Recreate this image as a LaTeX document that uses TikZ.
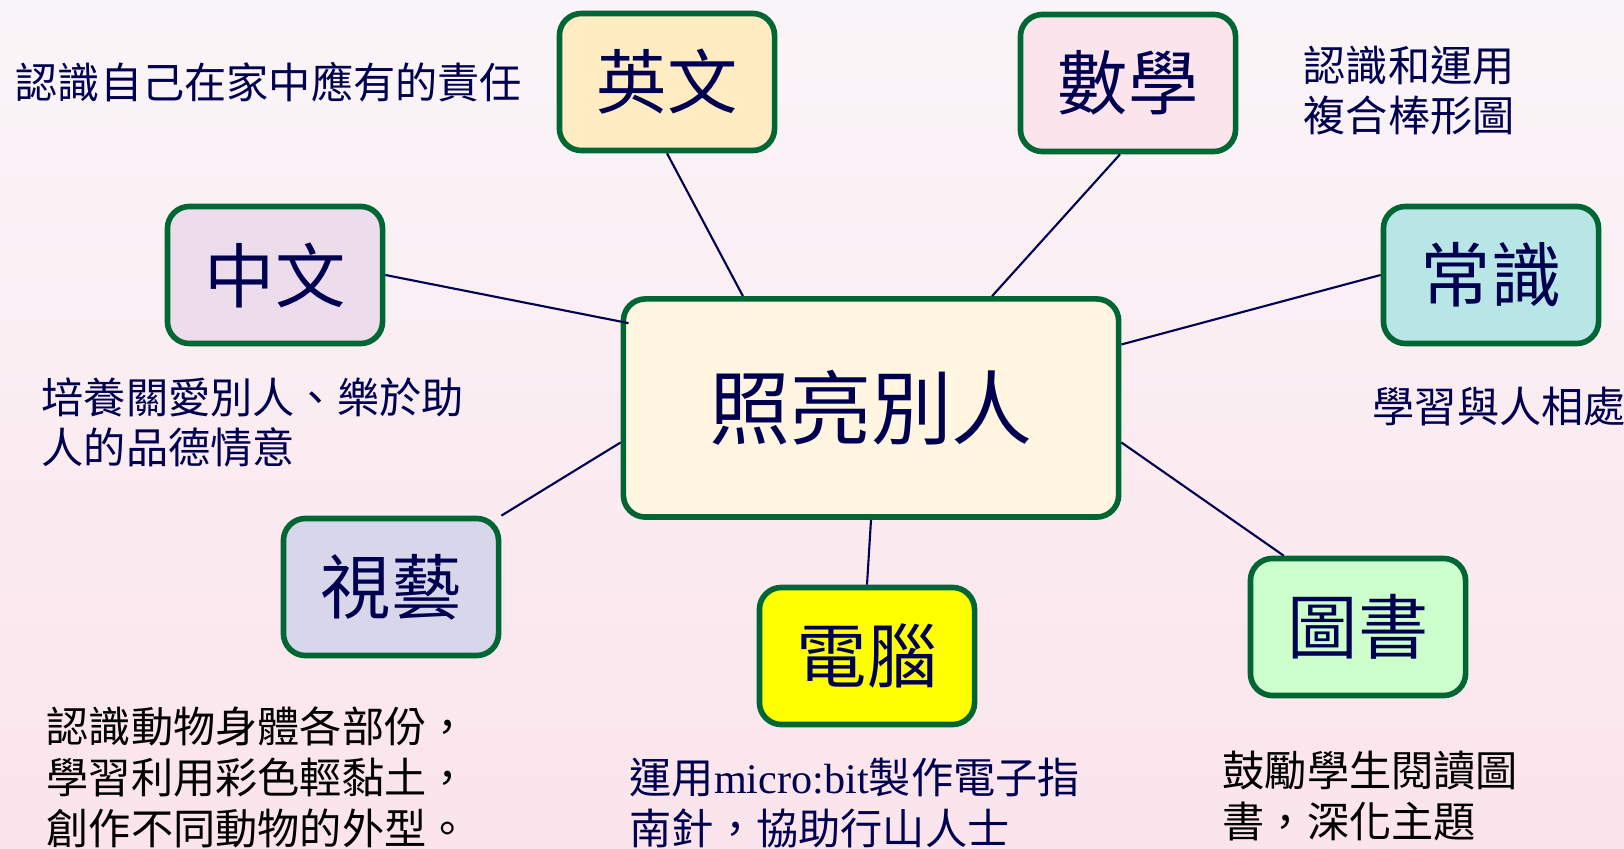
\documentclass[tikz,border=0pt]{standalone}
\usepackage{fontspec}
\newfontfamily\cjk{Noto Sans CJK TC}
\newfontfamily\latinserif{Liberation Serif}
\definecolor{bgtop}{RGB}{250,245,248}
\definecolor{bgbottom}{RGB}{251,228,236}
\definecolor{boxgreen}{RGB}{0,102,51}
\definecolor{ink}{RGB}{0,0,80}
\definecolor{fillying}{RGB}{255,236,194}
\definecolor{fillshu}{RGB}{252,228,236}
\definecolor{fillzhong}{RGB}{236,220,236}
\definecolor{fillchang}{RGB}{184,230,230}
\definecolor{fillzhao}{RGB}{255,245,225}
\definecolor{fillshi}{RGB}{216,214,234}
\definecolor{filldian}{RGB}{255,255,0}
\definecolor{filltu}{RGB}{204,255,204}
\tikzset{
	subject/.style={draw=boxgreen, line width=1.6pt, rounded corners=0.22cm, minimum width=2.15cm, minimum height=1.37cm, text=ink, font=\cjk\fontsize{20pt}{24pt}\selectfont},
	note/.style={anchor=base west, inner sep=0pt, align=left, text=ink, font=\cjk\fontsize{12pt}{14.5pt}\selectfont},
	link/.style={draw=ink, line width=0.6pt}
}
\begin{document}
\begin{tikzpicture}[x=0.01cm, y=-0.01cm]
%			\draw[help lines] (0,0) grid (1624,849);
			\useasboundingbox (0,0) rectangle (1624,849);
			\shade[top color=bgtop, bottom color=bgbottom] (0,0) rectangle (1624,849);
			\node[subject, fill=fillzhao, minimum width=4.95cm, minimum height=2.18cm, font=\cjk\fontsize{23pt}{28pt}\selectfont] (zhao) at (871,408) {照亮別人};
			\node[subject, fill=fillying] (ying) at (667,82) {英文};
			\node[subject, fill=fillshu] (shu) at (1128,83) {數學};
			\node[subject, fill=fillzhong] (zhong) at (275,275) {中文};
			\node[subject, fill=fillchang] (chang) at (1491,275) {常識};
			\node[subject, fill=fillshi] (shi) at (391,587) {視藝};
			\node[subject, fill=filldian] (dian) at (867,656) {電腦};
			\node[subject, fill=filltu] (tu) at (1358,627) {圖書};
			% multi-line notes sit on the baseline of their last line
			\node[note] (ying_note) at (15,99) {認識自己在家中應有的責任};
			\node[note] (shu_note) at (1303,132) {認識和運用\\複合棒形圖};
			\node[note] (zhong_note) at (41,464) {培養關愛別人、樂於助\\人的品德情意};
			\node[note] (chang_note) at (1372,423) {學習與人相處};
			\node[note, text=black] (shi_note) at (46,844) {認識動物身體各部份，\\學習利用彩色輕黏土，\\創作不同動物的外型。};
			\node[note] (dian_note) at (629,844) {運用{\latinserif\fontsize{12pt}{14.5pt}\selectfont micro:bit}製作電子指\\南針，協助行山人士};
			\node[note, text=black] (tu_note) at (1222,837) {鼓勵學生閱讀圖\\書，深化主題};
			\draw[link] (ying.south) -- ([xshift=-1.28cm]zhao.north);
			\draw[link] ([xshift=-0.08cm]shu.south) -- ([xshift=1.21cm]zhao.north);
			\draw[link] (zhong.east) -- ([xshift=0.08cm, yshift=-0.27cm]zhao.north west);
			\draw[link] (chang.west) -- ([yshift=0.635cm]zhao.east);
			\draw[link] (shi.north east) -- ([yshift=-0.345cm]zhao.west);
			\draw[link] (dian.north) -- (zhao.south);
			\draw[link] ([xshift=0.36cm]tu.north west) -- ([yshift=-0.345cm]zhao.east);
		\end{tikzpicture}
\end{document}
